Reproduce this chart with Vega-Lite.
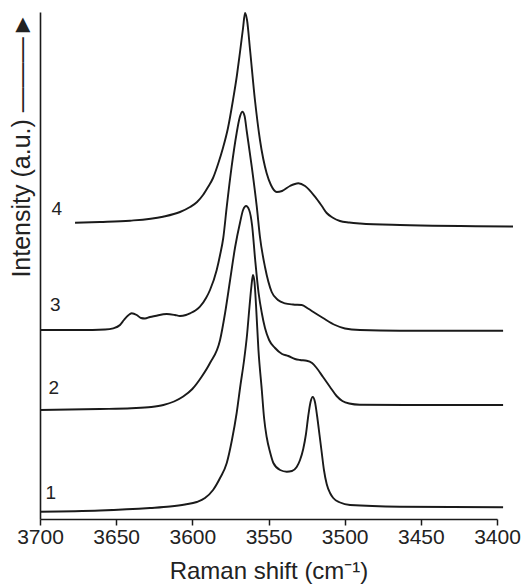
{
  "$schema": "https://vega.github.io/schema/vega-lite/v6.json",
  "width": 457,
  "height": 507,
  "autosize": {"type": "none"},
  "padding": {"left": 40, "top": 12, "right": 32, "bottom": 65},
  "background": "white",
  "config": {
    "view": {"stroke": null},
    "font": "Liberation Sans",
    "axis": {"grid": false, "domainColor": "#1a1a1a", "domainWidth": 1.6, "tickColor": "#1a1a1a", "tickWidth": 1.5, "labelColor": "#222222", "titleColor": "#222222", "titleFontWeight": "normal"}
  },
  "datasets": {
    "spectra": [
      {"s": "1", "shift": 3700.0, "intensity": 7.3},
      {"s": "1", "shift": 3660.6, "intensity": 8.5},
      {"s": "1", "shift": 3627.8, "intensity": 11.0},
      {"s": "1", "shift": 3614.7, "intensity": 12.5},
      {"s": "1", "shift": 3604.8, "intensity": 14.5},
      {"s": "1", "shift": 3597.1, "intensity": 17.0},
      {"s": "1", "shift": 3591.7, "intensity": 21.0},
      {"s": "1", "shift": 3586.4, "intensity": 29.0},
      {"s": "1", "shift": 3581.8, "intensity": 41},
      {"s": "1", "shift": 3577.4, "intensity": 56},
      {"s": "1", "shift": 3574.0, "intensity": 79},
      {"s": "1", "shift": 3570.9, "intensity": 106},
      {"s": "1", "shift": 3568.4, "intensity": 134},
      {"s": "1", "shift": 3566.1, "intensity": 158},
      {"s": "1", "shift": 3564.1, "intensity": 184},
      {"s": "1", "shift": 3562.5, "intensity": 212},
      {"s": "1", "shift": 3561.2, "intensity": 233},
      {"s": "1", "shift": 3560.2, "intensity": 244},
      {"s": "1", "shift": 3559.2, "intensity": 237},
      {"s": "1", "shift": 3558.2, "intensity": 214},
      {"s": "1", "shift": 3556.6, "intensity": 169},
      {"s": "1", "shift": 3554.4, "intensity": 129},
      {"s": "1", "shift": 3552.9, "intensity": 101},
      {"s": "1", "shift": 3551.2, "intensity": 82},
      {"s": "1", "shift": 3549.0, "intensity": 67},
      {"s": "1", "shift": 3546.8, "intensity": 56},
      {"s": "1", "shift": 3542.4, "intensity": 49},
      {"s": "1", "shift": 3538.0, "intensity": 47.3},
      {"s": "1", "shift": 3534.6, "intensity": 48},
      {"s": "1", "shift": 3531.5, "intensity": 52},
      {"s": "1", "shift": 3529.3, "intensity": 59},
      {"s": "1", "shift": 3527.2, "intensity": 70},
      {"s": "1", "shift": 3525.4, "intensity": 85},
      {"s": "1", "shift": 3523.9, "intensity": 103},
      {"s": "1", "shift": 3522.4, "intensity": 117},
      {"s": "1", "shift": 3521.0, "intensity": 122},
      {"s": "1", "shift": 3519.5, "intensity": 117},
      {"s": "1", "shift": 3518.0, "intensity": 102},
      {"s": "1", "shift": 3516.5, "intensity": 84},
      {"s": "1", "shift": 3515.1, "intensity": 67},
      {"s": "1", "shift": 3513.6, "intensity": 49},
      {"s": "1", "shift": 3511.8, "intensity": 35},
      {"s": "1", "shift": 3509.6, "intensity": 26},
      {"s": "1", "shift": 3507.5, "intensity": 21},
      {"s": "1", "shift": 3503.0, "intensity": 16.5},
      {"s": "1", "shift": 3496.5, "intensity": 14},
      {"s": "1", "shift": 3463.7, "intensity": 12.3},
      {"s": "1", "shift": 3396.0, "intensity": 11.7},

      {"s": "2", "shift": 3700.0, "intensity": 109},
      {"s": "2", "shift": 3660.6, "intensity": 110},
      {"s": "2", "shift": 3640.0, "intensity": 110.8},
      {"s": "2", "shift": 3627.0, "intensity": 112},
      {"s": "2", "shift": 3619.0, "intensity": 114},
      {"s": "2", "shift": 3612.0, "intensity": 117.5},
      {"s": "2", "shift": 3606.0, "intensity": 122.5},
      {"s": "2", "shift": 3600.0, "intensity": 130},
      {"s": "2", "shift": 3594.0, "intensity": 142},
      {"s": "2", "shift": 3588.4, "intensity": 156},
      {"s": "2", "shift": 3581.8, "intensity": 179},
      {"s": "2", "shift": 3578.5, "intensity": 206},
      {"s": "2", "shift": 3575.2, "intensity": 239},
      {"s": "2", "shift": 3571.9, "intensity": 272},
      {"s": "2", "shift": 3568.6, "intensity": 297},
      {"s": "2", "shift": 3566.7, "intensity": 309},
      {"s": "2", "shift": 3564.7, "intensity": 313},
      {"s": "2", "shift": 3562.7, "intensity": 309},
      {"s": "2", "shift": 3560.8, "intensity": 294},
      {"s": "2", "shift": 3558.8, "intensity": 260},
      {"s": "2", "shift": 3556.5, "intensity": 226},
      {"s": "2", "shift": 3554.4, "intensity": 206},
      {"s": "2", "shift": 3552.3, "intensity": 191},
      {"s": "2", "shift": 3549.6, "intensity": 179},
      {"s": "2", "shift": 3545.7, "intensity": 171},
      {"s": "2", "shift": 3541.1, "intensity": 165},
      {"s": "2", "shift": 3537.0, "intensity": 163},
      {"s": "2", "shift": 3532.6, "intensity": 160},
      {"s": "2", "shift": 3529.3, "intensity": 159},
      {"s": "2", "shift": 3524.9, "intensity": 158.3},
      {"s": "2", "shift": 3521.4, "intensity": 156},
      {"s": "2", "shift": 3518.4, "intensity": 151},
      {"s": "2", "shift": 3514.2, "intensity": 142},
      {"s": "2", "shift": 3509.6, "intensity": 132},
      {"s": "2", "shift": 3505.3, "intensity": 123},
      {"s": "2", "shift": 3501.5, "intensity": 118},
      {"s": "2", "shift": 3497.0, "intensity": 115.5},
      {"s": "2", "shift": 3490.0, "intensity": 114.3},
      {"s": "2", "shift": 3443.9, "intensity": 114},
      {"s": "2", "shift": 3396.0, "intensity": 114},

      {"s": "3", "shift": 3700.0, "intensity": 189},
      {"s": "3", "shift": 3673.7, "intensity": 189},
      {"s": "3", "shift": 3657.3, "intensity": 189.5},
      {"s": "3", "shift": 3651.9, "intensity": 190.7},
      {"s": "3", "shift": 3647.5, "intensity": 194},
      {"s": "3", "shift": 3644.9, "intensity": 199},
      {"s": "3", "shift": 3642.2, "intensity": 203.5},
      {"s": "3", "shift": 3639.8, "intensity": 205.7},
      {"s": "3", "shift": 3636.5, "intensity": 204},
      {"s": "3", "shift": 3633.7, "intensity": 201},
      {"s": "3", "shift": 3631.1, "intensity": 200.5},
      {"s": "3", "shift": 3627.8, "intensity": 202},
      {"s": "3", "shift": 3624.5, "intensity": 203},
      {"s": "3", "shift": 3616.8, "intensity": 205},
      {"s": "3", "shift": 3611.4, "intensity": 204},
      {"s": "3", "shift": 3608.1, "intensity": 203},
      {"s": "3", "shift": 3604.2, "intensity": 204},
      {"s": "3", "shift": 3601.5, "intensity": 205.7},
      {"s": "3", "shift": 3598.0, "intensity": 208.5},
      {"s": "3", "shift": 3595.0, "intensity": 212.3},
      {"s": "3", "shift": 3591.0, "intensity": 221},
      {"s": "3", "shift": 3588.4, "intensity": 229},
      {"s": "3", "shift": 3584.0, "intensity": 249},
      {"s": "3", "shift": 3581.8, "intensity": 264},
      {"s": "3", "shift": 3579.7, "intensity": 281},
      {"s": "3", "shift": 3577.4, "intensity": 312.3},
      {"s": "3", "shift": 3574.2, "intensity": 352.3},
      {"s": "3", "shift": 3570.9, "intensity": 386},
      {"s": "3", "shift": 3569.0, "intensity": 401},
      {"s": "3", "shift": 3567.2, "intensity": 407.3},
      {"s": "3", "shift": 3565.7, "intensity": 403},
      {"s": "3", "shift": 3564.3, "intensity": 388},
      {"s": "3", "shift": 3561.0, "intensity": 352.3},
      {"s": "3", "shift": 3557.7, "intensity": 312.3},
      {"s": "3", "shift": 3555.6, "intensity": 282},
      {"s": "3", "shift": 3552.3, "intensity": 252},
      {"s": "3", "shift": 3547.9, "intensity": 227},
      {"s": "3", "shift": 3543.8, "intensity": 219},
      {"s": "3", "shift": 3539.2, "intensity": 215.7},
      {"s": "3", "shift": 3533.9, "intensity": 214.5},
      {"s": "3", "shift": 3528.2, "intensity": 214},
      {"s": "3", "shift": 3524.1, "intensity": 210.5},
      {"s": "3", "shift": 3519.5, "intensity": 206},
      {"s": "3", "shift": 3514.2, "intensity": 201},
      {"s": "3", "shift": 3506.3, "intensity": 194},
      {"s": "3", "shift": 3499.8, "intensity": 190.5},
      {"s": "3", "shift": 3489.9, "intensity": 189},
      {"s": "3", "shift": 3463.7, "intensity": 188.3},
      {"s": "3", "shift": 3396.0, "intensity": 188.3},

      {"s": "4", "shift": 3677.0, "intensity": 296.3},
      {"s": "4", "shift": 3660.6, "intensity": 297},
      {"s": "4", "shift": 3640.9, "intensity": 298.3},
      {"s": "4", "shift": 3619.3, "intensity": 302.3},
      {"s": "4", "shift": 3608.1, "intensity": 307},
      {"s": "4", "shift": 3601.5, "intensity": 312},
      {"s": "4", "shift": 3596.9, "intensity": 317},
      {"s": "4", "shift": 3593.0, "intensity": 324},
      {"s": "4", "shift": 3589.7, "intensity": 332},
      {"s": "4", "shift": 3586.4, "intensity": 341},
      {"s": "4", "shift": 3583.1, "intensity": 355},
      {"s": "4", "shift": 3579.9, "intensity": 371},
      {"s": "4", "shift": 3576.6, "intensity": 391},
      {"s": "4", "shift": 3573.3, "intensity": 419},
      {"s": "4", "shift": 3570.7, "intensity": 444},
      {"s": "4", "shift": 3568.7, "intensity": 467},
      {"s": "4", "shift": 3566.7, "intensity": 491},
      {"s": "4", "shift": 3565.4, "intensity": 506},
      {"s": "4", "shift": 3564.1, "intensity": 499},
      {"s": "4", "shift": 3562.1, "intensity": 469},
      {"s": "4", "shift": 3558.9, "intensity": 419},
      {"s": "4", "shift": 3555.6, "intensity": 379},
      {"s": "4", "shift": 3551.2, "intensity": 345.7},
      {"s": "4", "shift": 3548.4, "intensity": 334},
      {"s": "4", "shift": 3544.6, "intensity": 327},
      {"s": "4", "shift": 3541.1, "intensity": 328},
      {"s": "4", "shift": 3535.9, "intensity": 333},
      {"s": "4", "shift": 3530.4, "intensity": 335.7},
      {"s": "4", "shift": 3526.0, "intensity": 333},
      {"s": "4", "shift": 3519.5, "intensity": 322.3},
      {"s": "4", "shift": 3515.0, "intensity": 313},
      {"s": "4", "shift": 3511.8, "intensity": 306},
      {"s": "4", "shift": 3508.0, "intensity": 301.5},
      {"s": "4", "shift": 3503.1, "intensity": 298},
      {"s": "4", "shift": 3497.0, "intensity": 296.5},
      {"s": "4", "shift": 3489.9, "intensity": 295.5},
      {"s": "4", "shift": 3463.7, "intensity": 294},
      {"s": "4", "shift": 3389.5, "intensity": 292.5}
    ],
    "labels": [
      {"label": "1", "shift": 3693, "intensity": 16},
      {"label": "2", "shift": 3691, "intensity": 121},
      {"label": "3", "shift": 3690, "intensity": 204},
      {"label": "4", "shift": 3689, "intensity": 300}
    ]
  },
  "layer": [
    {
      "data": {"name": "spectra"},
      "mark": {"type": "line", "interpolate": "monotone", "color": "#1a1a1a", "strokeWidth": 1.9},
      "encoding": {
        "x": {
          "field": "shift", "type": "quantitative",
          "scale": {"domain": [3400, 3700], "reverse": true, "nice": false, "zero": false},
          "axis": {
            "title": "Raman shift (cm⁻¹)",
            "values": [3700, 3675, 3650, 3625, 3600, 3575, 3550, 3525, 3500, 3475, 3450, 3425, 3400],
            "format": "d",
            "labelExpr": "datum.value % 50 === 0 ? datum.label : ''",
            "labelOverlap": false,
            "labelFlush": false,
            "labelFontSize": 21,
            "labelPadding": 1,
            "tickSize": {"condition": {"test": "datum.value % 50 === 0", "value": 6}, "value": 3.5},
            "titleFontSize": 24,
            "titlePadding": 12
          }
        },
        "y": {
          "field": "intensity", "type": "quantitative",
          "scale": {"domain": [0, 507], "nice": false, "zero": false},
          "axis": {
            "title": "Intensity (a.u.) ———►",
            "labels": false,
            "ticks": false,
            "titleFontSize": 25,
            "titleAnchor": "end",
            "titlePadding": 6,
            "minExtent": 0
          }
        },
        "detail": {"field": "s"}
      }
    },
    {
      "data": {"name": "labels"},
      "mark": {"type": "text", "fontSize": 19, "color": "#222222", "align": "center", "baseline": "bottom", "font": "Liberation Sans"},
      "encoding": {
        "x": {"field": "shift", "type": "quantitative"},
        "y": {"field": "intensity", "type": "quantitative"},
        "text": {"field": "label"}
      }
    }
  ]
}
